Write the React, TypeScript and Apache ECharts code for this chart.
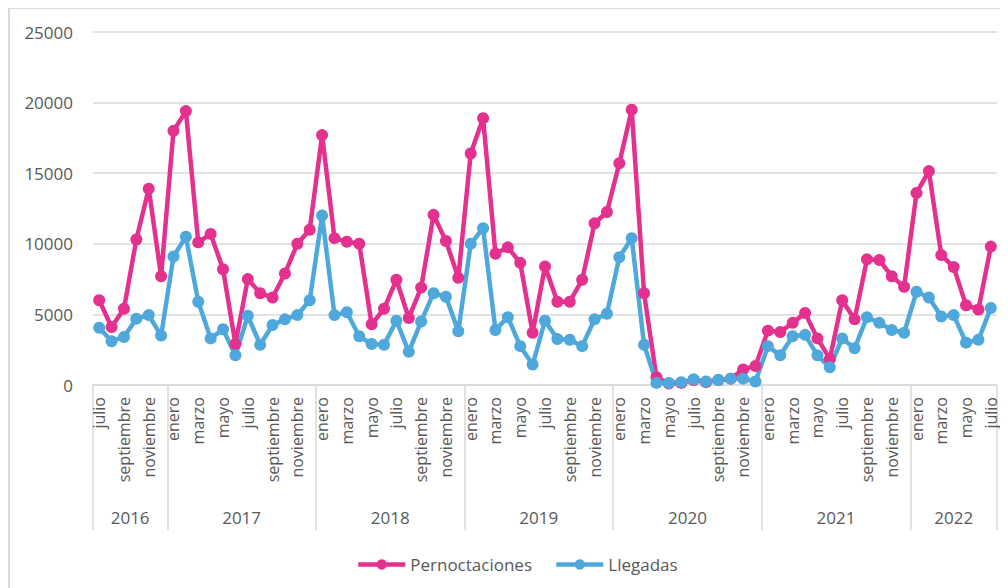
import React, { useEffect, useRef } from "react";
import * as echarts from "echarts";

const monthNames = [
  "enero", "febrero", "marzo", "abril", "mayo", "junio",
  "julio", "agosto", "septiembre", "octubre", "noviembre", "diciembre",
];
const years = [2016, 2017, 2018, 2019, 2020, 2021, 2022];
const firstMonthIndex = [6, 0, 0, 0, 0, 0, 0];
const monthsPerYear = [6, 12, 12, 12, 12, 12, 7];

const pernoctaciones = [
  6000, 4100, 5400, 10300, 13900, 7700,
  18000, 19400, 10100, 10700, 8200, 2900, 7500, 6500, 6200, 7900, 10000, 11000,
  17700, 10400, 10150, 10000, 4300, 5400, 7450, 4750, 6900, 12050, 10200, 7600,
  16400, 18900, 9300, 9750, 8650, 3700, 8400, 5900, 5900, 7450, 11450, 12250,
  15700, 19500, 6500, 550, 100, 150, 350, 200, 350, 450, 1100, 1350,
  3850, 3750, 4400, 5100, 3300, 1850, 6000, 4650, 8900, 8850, 7700, 6950,
  13600, 15150, 9200, 8350, 5650, 5350, 9800,
];

const llegadas = [
  4050, 3100, 3400, 4700, 4950, 3500,
  9100, 10500, 5900, 3300, 3950, 2100, 4900, 2850, 4250, 4650, 4950, 6000,
  12000, 4950, 5150, 3450, 2900, 2850, 4550, 2350, 4500, 6500, 6250, 3800,
  10000, 11100, 3900, 4800, 2750, 1450, 4550, 3250, 3200, 2750, 4650, 5050,
  9050, 10400, 2850, 150, 150, 200, 400, 250, 350, 450, 450, 250,
  2750, 2100, 3450, 3550, 2100, 1250, 3300, 2600, 4800, 4400, 3900, 3700,
  6600, 6200, 4850, 4950, 3000, 3200, 5450,
];

const yTicks = [0, 5000, 10000, 15000, 20000, 25000];

const PINK = "#E4318F";
const BLUE = "#4EA8DC";
const GRAY_TEXT = "#595959";
const GRID_GRAY = "#D9D9D9";

export default function App() {
  const ref = useRef<HTMLDivElement>(null);

  useEffect(() => {
    if (!ref.current) return;
    const chart = echarts.init(ref.current, undefined, { renderer: "svg" });

    const categories: string[] = [];
    const bounds: number[] = [0];
    const centers: number[] = [];
    const centerYear: Record<string, number> = {};
    let acc = 0;
    years.forEach((y, yi) => {
      for (let k = 0; k < monthsPerYear[yi]; k++) {
        categories.push(monthNames[firstMonthIndex[yi] + k]);
      }
      const c = acc + monthsPerYear[yi] / 2;
      centers.push(c);
      centerYear[String(c)] = y;
      acc += monthsPerYear[yi];
      bounds.push(acc);
    });

    const option: any = {
      animation: false,
      color: [PINK, BLUE],
      textStyle: { fontFamily: "Open Sans" },
      graphic: [
        {
          type: "rect",
          silent: true,
          shape: { x: 1, y: 0, width: 1200, height: 800 },
          style: { fill: "none", stroke: GRID_GRAY, lineWidth: 2 },
        },
      ],
      grid: { left: 85, right: 11, top: 24, bottom: 203 },
      legend: {
        left: 343,
        top: 543,
        itemWidth: 47,
        itemHeight: 13,
        itemGap: 22,
        lineStyle: { width: 4.5 },
        textStyle: { fontSize: 17, color: GRAY_TEXT, fontFamily: "Open Sans" },
        data: ["Pernoctaciones", "Llegadas"],
      },
      xAxis: [
        {
          type: "category",
          data: categories,
          boundaryGap: true,
          axisLine: { show: true, lineStyle: { color: GRID_GRAY, width: 1.5 } },
          axisTick: { show: false },
          axisLabel: {
            interval: 1,
            rotate: 90,
            margin: 12,
            fontSize: 16,
            color: GRAY_TEXT,
            fontFamily: "Open Sans",
          },
          splitLine: { show: false },
        },
        {
          type: "value",
          min: 0,
          max: acc,
          position: "bottom",
          gridIndex: 0,
          axisLine: { show: false },
          splitLine: { show: false },
          axisTick: {
            show: true,
            customValues: bounds,
            length: 145,
            lineStyle: { color: GRID_GRAY, width: 1.5 },
          },
          axisLabel: {
            customValues: centers,
            formatter: (v: number) => String(centerYear[String(v)] ?? ""),
            margin: 124,
            fontSize: 17,
            color: GRAY_TEXT,
            fontFamily: "Open Sans",
          },
        },
      ],
      yAxis: {
        type: "value",
        min: yTicks[0],
        max: yTicks[yTicks.length - 1],
        interval: yTicks[1] - yTicks[0],
        axisLine: { show: false },
        axisTick: { show: false },
        axisLabel: {
          margin: 20,
          fontSize: 17,
          color: GRAY_TEXT,
          fontFamily: "Open Sans",
          formatter: (v: number) => String(v),
        },
        splitLine: { lineStyle: { color: GRID_GRAY, width: 1.5 } },
      },
      series: [
        {
          name: "Pernoctaciones",
          type: "line",
          xAxisIndex: 0,
          data: pernoctaciones,
          symbol: "circle",
          symbolSize: 12,
          showSymbol: true,
          showAllSymbol: true,
          lineStyle: { width: 4.5, color: PINK },
          itemStyle: { color: PINK },
        },
        {
          name: "Llegadas",
          type: "line",
          xAxisIndex: 0,
          data: llegadas,
          symbol: "circle",
          symbolSize: 12,
          showSymbol: true,
          showAllSymbol: true,
          lineStyle: { width: 4.5, color: BLUE },
          itemStyle: { color: BLUE },
        },
      ],
    };

    chart.setOption(option);
    return () => chart.dispose();
  }, []);

  return <div ref={ref} style={{ width: 1000, height: 580 }} />;
}
